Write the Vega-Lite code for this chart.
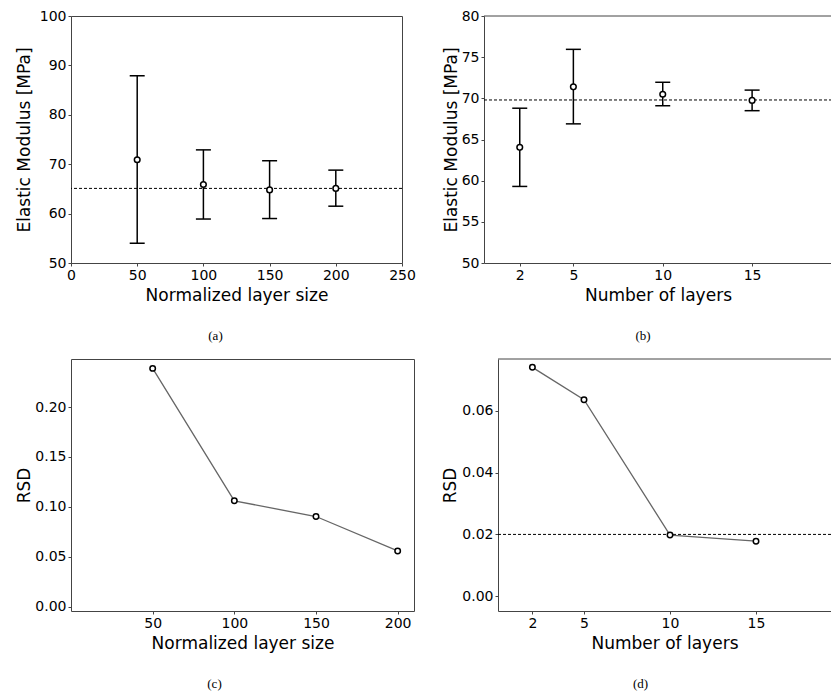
{
  "$schema": "https://vega.github.io/schema/vega-lite/v6.json",
  "padding": {"left": 14, "top": 8, "right": 0, "bottom": 0},
  "background": "white",
  "config": {
    "font": "DejaVu Sans",
    "view": {"stroke": "#444", "strokeWidth": 1},
    "axis": {"grid": false, "domain": false, "domainColor": "#444", "domainWidth": 1, "tickColor": "#444", "tickSize": 3, "tickWidth": 1, "labelFontSize": 14, "labelColor": "black", "titleFontSize": 17, "titleFontWeight": "normal", "titleColor": "black", "labelPadding": 2, "labelFont": "DejaVu Sans", "titleFont": "DejaVu Sans", "labelFlush": false, "labelOverlap": false},
    "title": {"font": "Liberation Serif", "fontSize": 13, "fontWeight": "normal", "orient": "bottom", "anchor": "middle", "color": "black", "offset": 27}
  },
  "datasets": {
    "a": [
      {"n": 50, "mean": 70.9, "lo": 54.0, "hi": 87.9},
      {"n": 100, "mean": 65.9, "lo": 58.9, "hi": 72.9},
      {"n": 150, "mean": 64.8, "lo": 59.0, "hi": 70.7},
      {"n": 200, "mean": 65.1, "lo": 61.5, "hi": 68.8}
    ],
    "aref": [{"ref": 65.1}],
    "b": [
      {"n": 2, "mean": 64.05, "lo": 59.3, "hi": 68.8},
      {"n": 5, "mean": 71.4, "lo": 66.9, "hi": 75.95},
      {"n": 10, "mean": 70.5, "lo": 69.1, "hi": 71.95},
      {"n": 15, "mean": 69.75, "lo": 68.5, "hi": 71.0}
    ],
    "bref": [{"ref": 69.8}],
    "btop": [{"top": 80}],
    "c": [
      {"n": 50, "rsd": 0.2388},
      {"n": 100, "rsd": 0.106},
      {"n": 150, "rsd": 0.0903},
      {"n": 200, "rsd": 0.0558}
    ],
    "d": [
      {"n": 2, "rsd": 0.0741},
      {"n": 5, "rsd": 0.0636},
      {"n": 10, "rsd": 0.0198},
      {"n": 15, "rsd": 0.0178}
    ],
    "dref": [{"ref": 0.02}],
    "dtop": [{"top": 0.0768}]
  },
  "bounds": "flush",
  "spacing": 343,
  "vconcat": [
    {
      "bounds": "flush",
      "spacing": 82,
      "hconcat": [
        {
          "width": 331,
          "height": 247,
          "title": {"text": "(a)", "dx": -21},
          "encoding": {
            "x": {"field": "n", "type": "quantitative", "title": "Normalized layer size", "scale": {"domain": [0, 250], "nice": false, "zero": false}, "axis": {"values": [0, 50, 100, 150, 200, 250], "format": "d", "titlePadding": 5}}
          },
          "layer": [
            {
              "data": {"name": "aref"},
              "mark": {"type": "rule", "color": "black", "strokeWidth": 1, "strokeDash": [3, 2]},
              "encoding": {"x": null, "y": {"field": "ref", "type": "quantitative", "title": "Elastic Modulus [MPa]"}}
            },
            {
              "data": {"name": "a"},
              "mark": {"type": "rule", "color": "black", "strokeWidth": 1.5},
              "encoding": {
                "y": {"field": "lo", "type": "quantitative", "title": "Elastic Modulus [MPa]", "scale": {"domain": [50, 100], "nice": false, "zero": false}, "axis": {"values": [50, 60, 70, 80, 90, 100], "titlePadding": 6}},
                "y2": {"field": "hi"}
              }
            },
            {
              "data": {"name": "a"},
              "mark": {"type": "tick", "orient": "horizontal", "color": "black", "size": 15, "thickness": 1.5, "opacity": 1},
              "encoding": {"y": {"field": "lo", "type": "quantitative", "title": "Elastic Modulus [MPa]"}}
            },
            {
              "data": {"name": "a"},
              "mark": {"type": "tick", "orient": "horizontal", "color": "black", "size": 15, "thickness": 1.5, "opacity": 1},
              "encoding": {"y": {"field": "hi", "type": "quantitative", "title": "Elastic Modulus [MPa]"}}
            },
            {
              "data": {"name": "a"},
              "mark": {"type": "point", "shape": "circle", "fill": "white", "stroke": "black", "strokeWidth": 1.5, "size": 32, "opacity": 1, "fillOpacity": 1},
              "encoding": {"y": {"field": "mean", "type": "quantitative", "title": "Elastic Modulus [MPa]"}}
            }
          ]
        },
        {
          "width": 348,
          "height": 247,
          "view": {"stroke": null},
          "title": {"text": "(b)", "dx": -15},
          "encoding": {
            "x": {"field": "n", "type": "quantitative", "title": "Number of layers", "scale": {"domain": [0, 19.47], "nice": false, "zero": false}, "axis": {"values": [2, 5, 10, 15], "format": "d", "titlePadding": 5, "domain": true}}
          },
          "layer": [
            {
              "data": {"name": "btop"},
              "mark": {"type": "rule", "color": "#444", "strokeWidth": 1},
              "encoding": {"x": null, "y": {"field": "top", "type": "quantitative", "title": "Elastic Modulus [MPa]"}}
            },
            {
              "data": {"name": "bref"},
              "mark": {"type": "rule", "color": "black", "strokeWidth": 1, "strokeDash": [3, 2]},
              "encoding": {"x": null, "y": {"field": "ref", "type": "quantitative", "title": "Elastic Modulus [MPa]"}}
            },
            {
              "data": {"name": "b"},
              "mark": {"type": "rule", "color": "black", "strokeWidth": 1.5},
              "encoding": {
                "y": {"field": "lo", "type": "quantitative", "title": "Elastic Modulus [MPa]", "scale": {"domain": [50, 80], "nice": false, "zero": false}, "axis": {"values": [50, 55, 60, 65, 70, 75, 80], "titlePadding": 1, "domain": true}},
                "y2": {"field": "hi"}
              }
            },
            {
              "data": {"name": "b"},
              "mark": {"type": "tick", "orient": "horizontal", "color": "black", "size": 15, "thickness": 1.5, "opacity": 1},
              "encoding": {"y": {"field": "lo", "type": "quantitative", "title": "Elastic Modulus [MPa]"}}
            },
            {
              "data": {"name": "b"},
              "mark": {"type": "tick", "orient": "horizontal", "color": "black", "size": 15, "thickness": 1.5, "opacity": 1},
              "encoding": {"y": {"field": "hi", "type": "quantitative", "title": "Elastic Modulus [MPa]"}}
            },
            {
              "data": {"name": "b"},
              "mark": {"type": "point", "shape": "circle", "fill": "white", "stroke": "black", "strokeWidth": 1.5, "size": 32, "opacity": 1, "fillOpacity": 1},
              "encoding": {"y": {"field": "mean", "type": "quantitative", "title": "Elastic Modulus [MPa]"}}
            }
          ]
        }
      ]
    },
    {
      "bounds": "flush",
      "spacing": 84,
      "hconcat": [
        {
          "width": 343,
          "height": 252,
          "title": {"text": "(c)", "dx": -28},
          "data": {"name": "c"},
          "encoding": {
            "x": {"field": "n", "type": "quantitative", "title": "Normalized layer size", "scale": {"domain": [0, 210], "nice": false, "zero": false}, "axis": {"values": [50, 100, 150, 200], "format": "d", "titlePadding": 5}},
            "y": {"field": "rsd", "type": "quantitative", "title": "RSD", "scale": {"domain": [-0.0044, 0.2482], "nice": false, "zero": false}, "axis": {"values": [0, 0.05, 0.1, 0.15, 0.2], "format": ".2f", "titlePadding": 1}}
          },
          "layer": [
            {"mark": {"type": "line", "color": "#666", "strokeWidth": 1.3}},
            {"mark": {"type": "point", "shape": "circle", "fill": "white", "stroke": "black", "strokeWidth": 1.5, "size": 30, "opacity": 1, "fillOpacity": 1}}
          ]
        },
        {
          "width": 333,
          "height": 252,
          "view": {"stroke": null},
          "title": {"text": "(d)", "dx": -24},
          "encoding": {
            "x": {"field": "n", "type": "quantitative", "title": "Number of layers", "scale": {"domain": [0, 19.36], "nice": false, "zero": false}, "axis": {"values": [2, 5, 10, 15], "format": "d", "titlePadding": 5, "domain": true}}
          },
          "layer": [
            {
              "data": {"name": "dtop"},
              "mark": {"type": "rule", "color": "#444", "strokeWidth": 1},
              "encoding": {"x": null, "y": {"field": "top", "type": "quantitative", "title": "RSD"}}
            },
            {
              "data": {"name": "dref"},
              "mark": {"type": "rule", "color": "black", "strokeWidth": 1, "strokeDash": [3, 2]},
              "encoding": {"x": null, "y": {"field": "ref", "type": "quantitative", "title": "RSD"}}
            },
            {
              "data": {"name": "d"},
              "mark": {"type": "line", "color": "#666", "strokeWidth": 1.3},
              "encoding": {"y": {"field": "rsd", "type": "quantitative", "title": "RSD", "scale": {"domain": [-0.0048, 0.0768], "nice": false, "zero": false}, "axis": {"values": [0, 0.02, 0.04, 0.06], "format": ".2f", "titlePadding": 2, "domain": true}}}
            },
            {
              "data": {"name": "d"},
              "mark": {"type": "point", "shape": "circle", "fill": "white", "stroke": "black", "strokeWidth": 1.5, "size": 30, "opacity": 1, "fillOpacity": 1},
              "encoding": {"y": {"field": "rsd", "type": "quantitative", "title": "RSD"}}
            }
          ]
        }
      ]
    }
  ]
}
